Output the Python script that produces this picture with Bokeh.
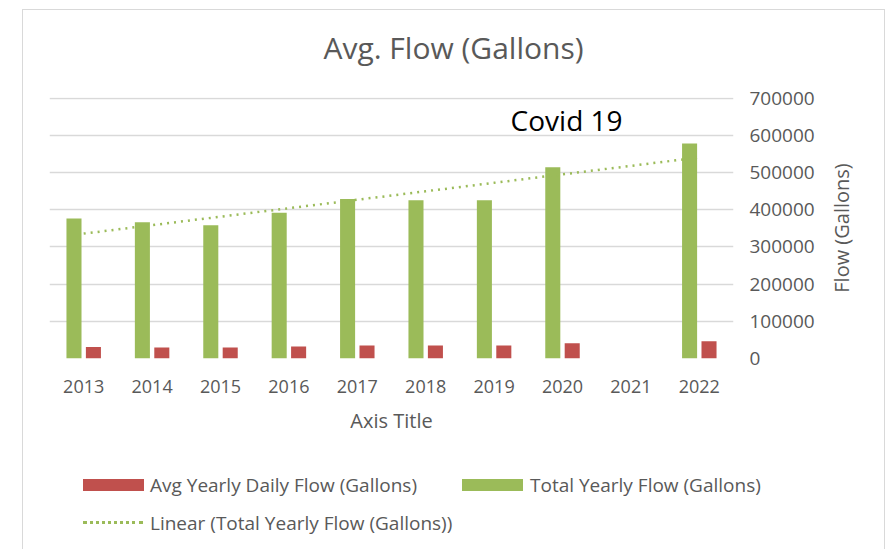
import numpy as np
from bokeh.plotting import figure
from bokeh.layouts import column, row
from bokeh.models import (ColumnDataSource, FactorRange, Range1d, Label, FixedTicker,
                          NumeralTickFormatter, Div)
from bokeh.transform import dodge
from bokeh.embed import file_html
from bokeh.resources import INLINE

# ---- data ----
years = ["2013", "2014", "2015", "2016", "2017", "2018", "2019", "2020", "2021", "2022"]
total_flow = [376000, 366000, 358000, 392000, 429000, 425000, 425000, 514000, np.nan, 578000]
avg_daily_flow = [31000, 29500, 29500, 32000, 35000, 35000, 35000, 41000, np.nan, 46500]
y_ticks = [0, 100000, 200000, 300000, 400000, 500000, 600000, 700000]
series_names = ["Avg Yearly Daily Flow (Gallons)", "Total Yearly Flow (Gallons)",
                "Linear (Total Yearly Flow (Gallons))"]
chart_title = "Avg. Flow (Gallons)"
x_title = "Axis Title"
y_title = "Flow (Gallons)"

# linear trendline (Excel style, x = 1..n, blanks skipped)
xi = np.arange(1, len(years) + 1, dtype=float)
tf = np.array(total_flow, dtype=float)
mask = ~np.isnan(tf)
slope, intercept = np.polyfit(xi[mask], tf[mask], 1)
trend = list(slope * xi + intercept)

src = ColumnDataSource(dict(year=years, total=total_flow, avg=avg_daily_flow, trend=trend))

FONT = "Open Sans"
GRAY = "#595959"
GREEN = "#9BBB59"
RED = "#C0504D"
BORDER = "1px solid #d9d9d9"

# ---- title strip ----
title_div = Div(
    text=f"""<div style="position:relative;width:861px;height:70px;">
<div style="position:absolute;left:0;top:20px;width:861px;text-align:center;font-family:'{FONT}';
font-size:30px;line-height:36px;color:{GRAY};white-space:nowrap;">{chart_title}</div></div>""",
    width=863, height=71, margin=(9, 0, 0, 22),
    styles={"border-top": BORDER, "border-left": BORDER, "border-right": BORDER,
            "background": "white"})

# ---- main chart ----
p = figure(x_range=FactorRange(factors=years), y_range=Range1d(0, 701500),
           width=803, height=370, output_backend="svg", toolbar_location=None,
           y_axis_location="right", min_border_left=26, min_border_right=93,
           min_border_top=17, min_border_bottom=92,
           margin=(0, 0, 0, 22), styles={"border-left": BORDER})
p.outline_line_color = None
p.background_fill_color = "white"
p.border_fill_color = "white"

r_total = p.vbar(x=dodge("year", -0.142, range=p.x_range), top="total", width=0.22,
                 source=src, fill_color=GREEN, line_color=None)
r_avg = p.vbar(x=dodge("year", 0.142, range=p.x_range), top="avg", width=0.22,
               source=src, fill_color=RED, line_color=None)
r_trend = p.line(x="year", y="trend", source=src, line_color=GREEN, line_width=2.5,
                 line_dash="2 5")

p.add_layout(Label(x=7.56, y=640000, text="Covid 19", text_align="center",
                   text_baseline="middle", text_font=FONT, text_font_size="28px",
                   text_color="black"))

xa = p.xaxis[0]
xa.axis_label = x_title
xa.axis_label_text_font = FONT
xa.axis_label_text_font_size = "20px"
xa.axis_label_text_font_style = "normal"
xa.axis_label_text_color = GRAY
xa.axis_label_standoff = 11
xa.major_label_text_font = FONT
xa.major_label_text_font_size = "18px"
xa.major_label_text_color = GRAY
xa.major_label_standoff = 15
xa.axis_line_color = None
xa.major_tick_line_color = None
xa.minor_tick_line_color = None

ya = p.yaxis[0]
ya.ticker = FixedTicker(ticks=y_ticks)
ya.formatter = NumeralTickFormatter(format="0")
ya.major_label_text_font = FONT
ya.major_label_text_font_size = "19px"
ya.major_label_text_color = GRAY
ya.major_label_standoff = 10
ya.axis_line_color = None
ya.major_tick_line_color = None
ya.minor_tick_line_color = None

p.xgrid.grid_line_color = None
p.ygrid.grid_line_color = "#d9d9d9"
p.ygrid.grid_line_width = 1.5

# ---- right axis title (reads bottom to top) ----
axis_div = Div(
    text=f"""<div style="position:relative;width:59px;height:370px;">
<div style="position:absolute;left:17px;top:148px;transform:translate(-50%,-50%) rotate(-90deg);
font-family:'{FONT}';font-size:20px;line-height:24px;color:{GRAY};white-space:nowrap;">{y_title}</div></div>""",
    width=60, height=370, margin=(0, 0, 0, 0),
    styles={"border-right": BORDER, "background": "white"})

# ---- legend strip below the chart ----
txt = f"font-family:'{FONT}';font-size:19px;color:{GRAY};line-height:24px;position:absolute;white-space:nowrap;"
legend_html = f"""
<div style="position:relative;width:861px;height:99px;">
  <div style="position:absolute;left:60px;top:29px;width:61px;height:12px;background:{RED};"></div>
  <div style="{txt}left:127px;top:23px;">{series_names[0]}</div>
  <div style="position:absolute;left:439px;top:29px;width:61px;height:12px;background:{GREEN};"></div>
  <div style="{txt}left:507px;top:23px;">{series_names[1]}</div>
  <div style="position:absolute;left:60px;top:71px;width:60px;height:0;border-top:3px dotted {GREEN};"></div>
  <div style="{txt}left:127px;top:61px;">{series_names[2]}</div>
</div>
"""
lg = Div(text=legend_html, width=863, height=99, margin=(0, 0, 0, 22),
         styles={"border-left": BORDER, "border-right": BORDER, "background": "white"})

layout = column(title_div, row(p, axis_div, spacing=0), lg, spacing=0)
open("out.html", "w").write(file_html(layout, INLINE))
